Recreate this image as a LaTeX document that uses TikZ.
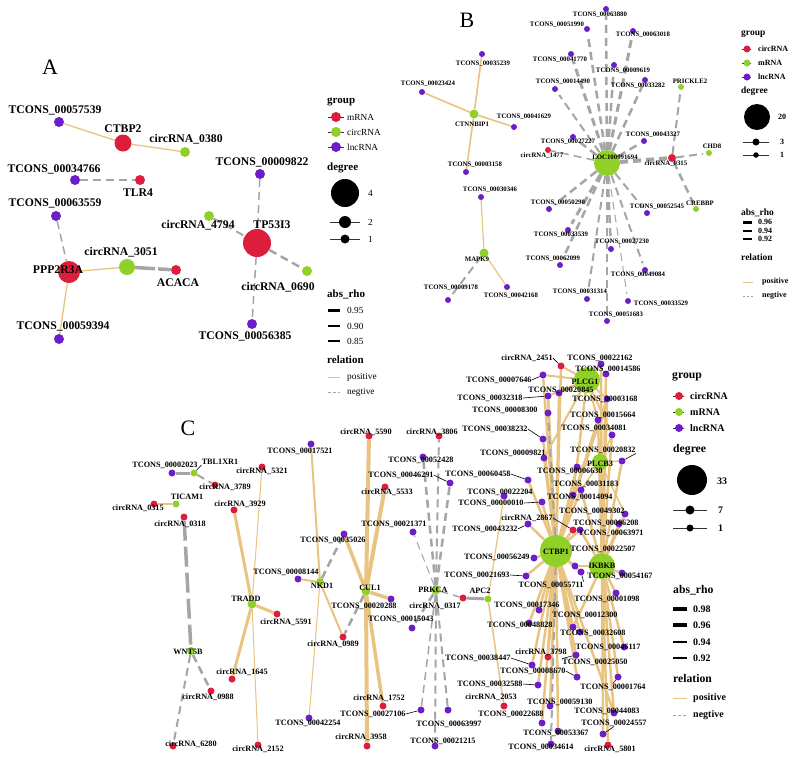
\documentclass[tikz,border=0pt]{standalone}
\usepackage{fontspec}
\setmainfont{Liberation Serif}
\pgfdeclarelayer{bgw}
\pgfdeclarelayer{edges}
\pgfsetlayers{bgw,edges,main}
\definecolor{cred}{RGB}{220,30,60}
\definecolor{cgrn}{RGB}{145,208,40}
\definecolor{cpur}{RGB}{110,30,200}
\definecolor{ctan}{RGB}{232,196,128}
\definecolor{cgry}{RGB}{165,165,165}
\tikzset{
 cR/.style={circle,fill=cred,draw=none,inner sep=0pt,minimum size=#1},
 cG/.style={circle,fill=cgrn,draw=none,inner sep=0pt,minimum size=#1},
 cP/.style={circle,fill=cpur,draw=none,inner sep=0pt,minimum size=#1},
 cK/.style={circle,fill=black,draw=none,inner sep=0pt,minimum size=#1},
 ePos/.style={draw=ctan,line width=#1},
 eNeg/.style={draw=cgry,line width=#1,dash pattern=on 8pt off 5pt},
 lA/.style={font=\fontsize{11.7}{12}\selectfont\bfseries,inner sep=0pt},
 lB/.style={font=\fontsize{6.8}{7}\selectfont\bfseries,inner sep=0pt},
 lC/.style={font=\fontsize{8.2}{9}\selectfont\bfseries,inner sep=0pt},
 panel/.style={font=\fontsize{22}{24}\selectfont,inner sep=0pt},
 lead/.style={draw=black,line width=0.6pt},
 tA/.style={font=\fontsize{11}{12}\selectfont\bfseries,anchor=west,inner sep=0pt},
 iA/.style={font=\fontsize{9.3}{10}\selectfont,anchor=west,inner sep=0pt},
 tB/.style={font=\fontsize{9.5}{10}\selectfont\bfseries,anchor=west,inner sep=0pt},
 iB/.style={font=\fontsize{8}{9}\selectfont\bfseries,anchor=west,inner sep=0pt},
 tC/.style={font=\fontsize{11.7}{12}\selectfont\bfseries,anchor=west,inner sep=0pt},
 iC/.style={font=\fontsize{10}{11}\selectfont\bfseries,anchor=west,inner sep=0pt},
 keyln/.style={draw=black!80,line width=0.8pt},
}
\begin{document}
\begin{tikzpicture}[x=1pt,y=-1pt]
\useasboundingbox (0,0) rectangle (798,761);
\begin{pgfonlayer}{bgw}
\fill[white] (0,0) rectangle (798,761);
\end{pgfonlayer}
% ================= PANEL A =================
\node[panel] (PA) at (50,67) {A};
\node[cP=10pt] (A1) at (59,122) {};
\node[lA] (A1l) at (55,110) {TCONS\_00057539};
\node[cR=17pt] (A2) at (123,143) {};
\node[lA] (A2l) at (123,129) {CTBP2};
\node[cG=10pt] (A3) at (185,152) {};
\node[lA] (A3l) at (186,139) {circRNA\_0380};
\node[cP=10pt] (A4) at (75,180) {};
\node[lA] (A4l) at (54,169) {TCONS\_00034766};
\node[cR=10pt] (A5) at (140,180) {};
\node[lA] (A5l) at (138,193) {TLR4};
\node[cP=10pt] (A6) at (56,216) {};
\node[lA] (A6l) at (55,203) {TCONS\_00063559};
\node[cR=22pt] (A7) at (69,272) {};
\node[lA] (A7l) at (58,270) {PPP2R3A};
\node[cG=16pt] (A8) at (127,267) {};
\node[lA] (A8l) at (121,252) {circRNA\_3051};
\node[cR=10pt] (A9) at (176,270) {};
\node[lA] (A9l) at (178,283) {ACACA};
\node[cP=10pt] (A10) at (59,339) {};
\node[lA] (A10l) at (63,326) {TCONS\_00059394};
\node[cP=10pt] (A11) at (260,174) {};
\node[lA] (A11l) at (262,162) {TCONS\_00009822};
\node[cG=10pt] (A12) at (209,216) {};
\node[lA] (A12l) at (198,225) {circRNA\_4794};
\node[cR=28pt] (A13) at (257,243) {};
\node[lA] (A13l) at (272,225) {TP53I3};
\node[cG=10pt] (A14) at (307,271) {};
\node[lA] (A14l) at (278,287) {circRNA\_0690};
\node[cP=10pt] (A15) at (252,324) {};
\node[lA] (A15l) at (245,336) {TCONS\_00056385};
\begin{pgfonlayer}{edges}
\draw[ePos=1.3] (A1) -- (A2);
\draw[ePos=1.3] (A2) -- (A3);
\draw[eNeg=1.3] (A4) -- (A5);
\draw[eNeg=1.5] (A6) -- (A7);
\draw[ePos=1.3] (A7) -- (A8);
\draw[ePos=1.3] (A7) -- (A10);
\draw[eNeg=3.5,dash pattern=on 20pt off 3pt] (A8) -- (A9);
\draw[eNeg=1.5] (A11) -- (A13);
\draw[eNeg=2] (A12) -- (A13);
\draw[eNeg=2.5] (A13) -- (A14);
\draw[eNeg=1.5] (A13) -- (A15);
\end{pgfonlayer}
% legend A
\node[tA] (LAg) at (327,102) {group};
\draw[keyln] (328,117) -- (344,117);
\draw[keyln] (328,132) -- (344,132);
\draw[keyln] (328,147) -- (344,147);
\node[cR=10pt] (LAk1) at (336,117) {};
\node[cG=10pt] (LAk2) at (336,132) {};
\node[cP=10pt] (LAk3) at (336,147) {};
\node[iA] (LAt1) at (347,117) {mRNA};
\node[iA] (LAt2) at (347,132) {circRNA};
\node[iA] (LAt3) at (347,147) {lncRNA};
\node[tA] (LAd) at (327,168) {degree};
\draw[keyln] (330,222) -- (360,222);
\draw[keyln] (330,239) -- (360,239);
\node[cK=28pt] (LAd1) at (345,193) {};
\node[cK=12pt] (LAd2) at (345,222) {};
\node[cK=9pt] (LAd3) at (345,239) {};
\node[iA] (LAd1t) at (368,193) {4};
\node[iA] (LAd2t) at (368,222) {2};
\node[iA] (LAd3t) at (368,239) {1};
\node[tA] (LAr) at (327,294) {abs\_rho};
\draw[black,line width=3pt] (328,310) -- (340,310);
\draw[black,line width=2.5pt] (328,326) -- (340,326);
\draw[black,line width=2pt] (328,341) -- (340,341);
\node[iA] (LAr1) at (347,310) {0.95};
\node[iA] (LAr2) at (347,326) {0.90};
\node[iA] (LAr3) at (347,341) {0.85};
\node[tA] (LArel) at (327,360) {relation};
\draw[ctan,line width=1pt] (328,377) -- (340,377);
\draw[cgry,line width=1pt,dash pattern=on 3pt off 2pt] (328,392) -- (340,392);
\node[iA] (LAp) at (347,377) {positive};
\node[iA] (LAn) at (347,392) {negtive};
% ================= PANEL B =================
\node[panel] (PB) at (467,20) {B};
\node[cP=6pt] (b35239) at (482,54) {};
\node[lB] (b35239l) at (483,64) {TCONS\_00035239};
\node[cP=6pt] (b23424) at (422,92) {};
\node[lB] (b23424l) at (428,84) {TCONS\_00023424};
\node[cG=9pt] (CTNN) at (474,114) {};
\node[lB] (CTNNl) at (472,124) {CTNNBIP1};
\node[cP=6pt] (b41629) at (514,127) {};
\node[lB] (b41629l) at (524,117) {TCONS\_00041629};
\node[cP=6pt] (b3158) at (466,172) {};
\node[lB] (b3158l) at (475,165) {TCONS\_00003158};
\node[cP=6pt] (b30346) at (481,197) {};
\node[lB] (b30346l) at (490,190) {TCONS\_00030346};
\node[cG=9pt] (MAPK) at (484,253) {};
\node[lB] (MAPKl) at (477,259) {MAPK9};
\node[cP=6pt] (b9178) at (448,300) {};
\node[lB] (b9178l) at (451,288) {TCONS\_00009178};
\node[cP=6pt] (b42168) at (507,287) {};
\node[lB] (b42168l) at (511,296) {TCONS\_00042168};
\node[cP=6pt] (b51990) at (587,29) {};
\node[lB] (b51990l) at (557,25) {TCONS\_00051990};
\node[cP=6pt] (b41770) at (571,54) {};
\node[lB] (b41770l) at (560,60) {TCONS\_00041770};
\node[cP=6pt] (b14490) at (555,89) {};
\node[lB] (b14490l) at (563,82) {TCONS\_00014490};
\node[cP=6pt] (b27227) at (573,137) {};
\node[lB] (b27227l) at (568,142) {TCONS\_00027227};
\node[cR=6pt] (c1477) at (548,150) {};
\node[lB] (c1477l) at (542,156) {circRNA\_1477};
\node[cP=6pt] (b63880) at (606,9) {};
\node[lB] (b63880l) at (600,15) {TCONS\_00063880};
\node[cP=6pt] (b63018) at (633,31) {};
\node[lB] (b63018l) at (643,35) {TCONS\_00063018};
\node[cP=6pt] (b9619) at (614,65) {};
\node[lB] (b9619l) at (623,71) {TCONS\_00009619};
\node[cP=6pt] (b33282) at (645,80) {};
\node[lB] (b33282l) at (638,86) {TCONS\_00033282};
\node[cG=6pt] (PRIC) at (681,87) {};
\node[lB] (PRICl) at (690,81) {PRICKLE2};
\node[cP=6pt] (b43327) at (644,141) {};
\node[lB] (b43327l) at (653,135) {TCONS\_00043327};
\node[cG=26pt] (LOC) at (607,163) {};
\node[lB] (LOCl) at (615,157) {LOC100991694};
\node[cR=8pt] (c0315b) at (672,158) {};
\node[lB] (c0315bl) at (666,164) {circRNA\_0315};
\node[cG=6pt] (CHD) at (709,153) {};
\node[lB] (CHDl) at (712,146) {CHD8};
\node[cG=6pt] (CREB) at (696,209) {};
\node[lB] (CREBl) at (700,203) {CREBBP};
\node[cP=6pt] (b52545) at (647,213) {};
\node[lB] (b52545l) at (657,207) {TCONS\_00052545};
\node[cP=6pt] (b50290) at (549,209) {};
\node[lB] (b50290l) at (558,203) {TCONS\_00050290};
\node[cP=6pt] (b33539) at (568,230) {};
\node[lB] (b33539l) at (561,235) {TCONS\_00033539};
\node[cP=6pt] (b27230) at (611,249) {};
\node[lB] (b27230l) at (622,242) {TCONS\_00027230};
\node[cP=6pt] (b62099) at (560,265) {};
\node[lB] (b62099l) at (553,259) {TCONS\_00062099};
\node[cP=6pt] (b49084) at (645,270) {};
\node[lB] (b49084l) at (638,275) {TCONS\_00049084};
\node[cP=6pt] (b31314) at (587,299) {};
\node[lB] (b31314l) at (580,292) {TCONS\_00031314};
\node[cP=6pt] (b33529) at (628,301) {};
\node[lB] (b33529l) at (661,304) {TCONS\_00033529};
\node[cP=6pt] (b51683) at (607,321) {};
\node[lB] (b51683l) at (616,315) {TCONS\_00051683};
\begin{pgfonlayer}{edges}
\draw[ePos=1.6] (CTNN) -- (b35239);
\draw[ePos=1.6] (CTNN) -- (b23424);
\draw[ePos=1.6] (CTNN) -- (b41629);
\draw[ePos=1.6] (CTNN) -- (b3158);
\draw[ePos=1.2] (MAPK) -- (b30346);
\draw[ePos=1.2] (MAPK) -- (b42168);
\begin{scope}[dash pattern=on 9pt off 5pt]
\draw[eNeg=2,shorten >=4pt] (MAPK) -- (b9178);
\draw[eNeg=2.5,shorten >=4pt] (LOC) -- (b51990);
\draw[eNeg=3,shorten >=4pt] (LOC) -- (b41770);
\draw[eNeg=2,shorten >=4pt] (LOC) -- (b14490);
\draw[eNeg=2.5,shorten >=3pt] (LOC) -- (b27227);
\draw[eNeg=1.5] (LOC) -- (c1477);
\draw[eNeg=2.5,shorten >=4pt] (LOC) -- (b63880);
\draw[eNeg=3,shorten >=4pt] (LOC) -- (b63018);
\draw[eNeg=2.5,shorten >=4pt] (LOC) -- (b9619);
\draw[eNeg=2.5,shorten >=4pt] (LOC) -- (b33282);
\draw[eNeg=2.5,shorten >=3pt] (LOC) -- (b43327);
\draw[eNeg=4] (LOC) -- (c0315b);
\draw[eNeg=2.5,shorten >=4pt] (LOC) -- (b50290);
\draw[eNeg=3,shorten >=4pt] (LOC) -- (b33539);
\draw[eNeg=2.5,shorten >=4pt] (LOC) -- (b62099);
\draw[eNeg=2.5,shorten >=4pt] (LOC) -- (b27230);
\draw[eNeg=2,shorten >=4pt] (LOC) -- (b31314);
\draw[eNeg=2.5,shorten >=4pt] (LOC) -- (b51683);
\draw[eNeg=1,shorten >=4pt] (LOC) -- (b33529);
\draw[eNeg=2,shorten >=4pt] (LOC) -- (b49084);
\draw[eNeg=2,shorten >=4pt] (LOC) -- (b52545);
\draw[eNeg=2,shorten >=4pt] (c0315b) -- (PRIC);
\draw[eNeg=2,shorten >=3pt] (c0315b) -- (CHD);
\draw[eNeg=2.5,shorten >=4pt] (c0315b) -- (CREB);
\end{scope}
\end{pgfonlayer}
% legend B
\node[tB] (LBg) at (741,34) {group};
\draw[keyln] (742,49) -- (751,49);
\draw[keyln] (742,63) -- (751,63);
\draw[keyln] (742,77) -- (751,77);
\node[cR=7pt] (LBk1) at (747,49) {};
\node[cG=7pt] (LBk2) at (747,63) {};
\node[cP=7pt] (LBk3) at (747,77) {};
\node[iB] (LBt1) at (758,49) {circRNA};
\node[iB] (LBt2) at (758,63) {mRNA};
\node[iB] (LBt3) at (758,77) {lncRNA};
\node[tB] (LBd) at (741,91) {degree};
\draw[keyln] (743,142) -- (769,142);
\draw[keyln] (743,155) -- (769,155);
\node[cK=26pt] (LBd1) at (757,117) {};
\node[cK=7pt] (LBd2) at (756,142) {};
\node[cK=5.5pt] (LBd3) at (756,155) {};
\node[iB] (LBd1t) at (778,117) {20};
\node[iB] (LBd2t) at (780,142) {3};
\node[iB] (LBd3t) at (780,155) {1};
\node[tB] (LBr) at (741,213) {abs\_rho};
\draw[black,line width=3pt] (743,222) -- (752,222);
\draw[black,line width=2.3pt] (743,231) -- (752,231);
\draw[black,line width=1.7pt] (743,239) -- (752,239);
\node[iB] (LBr1) at (758,222) {0.96};
\node[iB] (LBr2) at (758,231) {0.94};
\node[iB] (LBr3) at (758,239) {0.92};
\node[tB] (LBrel) at (741,257) {relation};
\draw[ctan,line width=0.8pt] (743,282) -- (753,282);
\draw[cgry,line width=0.8pt,dash pattern=on 2pt off 2pt] (743,296) -- (753,296);
\node[iB] (LBp) at (762,282) {positive};
\node[iB] (LBn) at (762,296) {negtive};
% ================= PANEL C =================
\node[panel] (PC) at (188,428) {C};
\node[cP=7pt] (k2023) at (172,473) {};
\node[lC] (k2023l) at (165,465) {TCONS\_00002023};
\node[cG=7pt] (TBL) at (194,473) {};
\node[lC] (TBLl) at (220,462) {TBL1XR1};
\node[cR=7pt] (k3789) at (215,485) {};
\node[lC] (k3789l) at (225,487) {circRNA\_3789};
\node[cG=7pt] (TIC) at (176,504) {};
\node[lC] (TICl) at (187,497) {TICAM1};
\node[cR=7pt] (k0315) at (154,504) {};
\node[lC] (k0315l) at (138,508) {circRNA\_0315};
\node[cR=7pt] (k0318) at (184,517) {};
\node[lC] (k0318l) at (180,524) {circRNA\_0318};
\node[cG=8pt] (WNT) at (191,651) {};
\node[lC] (WNTl) at (188,652) {WNT5B};
\node[cR=7pt] (k0988) at (211,691) {};
\node[lC] (k0988l) at (208,697) {circRNA\_0988};
\node[cR=7pt] (k6280) at (173,746) {};
\node[lC] (k6280l) at (191,744) {circRNA\_6280};
\node[cR=7pt] (k5321) at (262,467) {};
\node[lC] (k5321l) at (262,471) {circRNA\_5321};
\node[cR=7pt] (k3929) at (234,510) {};
\node[lC] (k3929l) at (240,504) {circRNA\_3929};
\node[cG=9pt] (TRA) at (252,604) {};
\node[lC] (TRAl) at (246,599) {TRADD};
\node[cR=7pt] (k5591) at (277,614) {};
\node[lC] (k5591l) at (286,622) {circRNA\_5591};
\node[cR=7pt] (k1645) at (232,679) {};
\node[lC] (k1645l) at (242,672) {circRNA\_1645};
\node[cR=7pt] (k2152) at (258,745) {};
\node[lC] (k2152l) at (258,749) {circRNA\_2152};
\node[cP=7pt] (k17521) at (311,444) {};
\node[lC] (k17521l) at (300,451) {TCONS\_00017521};
\node[cP=7pt] (k35026) at (344,534) {};
\node[lC] (k35026l) at (333,540) {TCONS\_00035026};
\node[cP=7pt] (k8144) at (298,579) {};
\node[lC] (k8144l) at (286,572) {TCONS\_00008144};
\node[cG=8pt] (NKD) at (320,582) {};
\node[lC] (NKDl) at (322,586) {NKD1};
\node[cR=7pt] (k0989) at (343,637) {};
\node[lC] (k0989l) at (333,644) {circRNA\_0989};
\node[cP=7pt] (k42254) at (309,718) {};
\node[lC] (k42254l) at (308,723) {TCONS\_00042254};
\node[cR=7pt] (k5590) at (369,436) {};
\node[lC] (k5590l) at (366,432) {circRNA\_5590};
\node[cR=7pt] (k5533) at (385,487) {};
\node[lC] (k5533l) at (387,492) {circRNA\_5533};
\node[cG=9pt] (CUL) at (366,591) {};
\node[lC] (CULl) at (370,588) {CUL1};
\node[cP=7pt] (k20288) at (391,599) {};
\node[lC] (k20288l) at (364,606) {TCONS\_00020288};
\node[cR=7pt] (k1752) at (383,706) {};
\node[lC] (k1752l) at (379,698) {circRNA\_1752};
\node[cR=7pt] (k3958) at (367,746) {};
\node[lC] (k3958l) at (361,737) {circRNA\_3958};
\node[cR=7pt] (k3806) at (439,436) {};
\node[lC] (k3806l) at (432,432) {circRNA\_3806};
\node[cP=7pt] (k52428) at (423,457) {};
\node[lC] (k52428l) at (421,460) {TCONS\_00052428};
\node[cP=7pt] (k46291) at (450,483) {};
\node[lC] (k46291l) at (401,475) {TCONS\_00046291};
\node[cP=7pt] (k21371) at (413,532) {};
\node[lC] (k21371l) at (394,524) {TCONS\_00021371};
\node[cG=9pt] (PRK) at (436,590) {};
\node[lC] (PRKl) at (433,590) {PRKCA};
\node[cR=7pt] (k0317) at (463,598) {};
\node[lC] (k0317l) at (435,606) {circRNA\_0317};
\node[cP=7pt] (k15043) at (412,628) {};
\node[lC] (k15043l) at (401,619) {TCONS\_00015043};
\node[cP=7pt] (k27106) at (421,710) {};
\node[lC] (k27106l) at (373,714) {TCONS\_00027106};
\node[cP=7pt] (k63997) at (448,710) {};
\node[lC] (k63997l) at (449,724) {TCONS\_00063997};
\node[cP=7pt] (k21215) at (435,746) {};
\node[lC] (k21215l) at (443,741) {TCONS\_00021215};
\node[cG=7pt] (APC) at (488,599) {};
\node[lC] (APCl) at (480,591) {APC2};
% central cluster
\node[cG=26pt] (PLCG) at (587,380) {};
\node[cG=16pt] (PLCB) at (600,462) {};
\node[cG=32pt] (CTBP) at (556,551) {};
\node[cG=26pt] (IKBK) at (602,566) {};
\node[cR=7pt] (c2451) at (561,366) {};
\node[lC] (c2451l) at (527,358) {circRNA\_2451};
\node[cP=7pt] (n22162) at (601,364) {};
\node[lC] (n22162l) at (600,358) {TCONS\_00022162};
\node[cP=7pt] (n14586) at (606,374) {};
\node[lC] (n14586l) at (608,369) {TCONS\_00014586};
\node[cP=7pt] (n7646) at (543,375) {};
\node[lC] (n7646l) at (499,380) {TCONS\_00007646};
\node[cP=7pt] (n20845) at (559,393) {};
\node[lC] (n20845l) at (561,390) {TCONS\_00020845};
\node[cP=7pt] (n32318) at (548,396) {};
\node[lC] (n32318l) at (490,398) {TCONS\_00032318};
\node[cP=7pt] (n3168) at (607,399) {};
\node[lC] (n3168l) at (605,399) {TCONS\_00003168};
\node[cP=7pt] (n8300) at (548,413) {};
\node[lC] (n8300l) at (505,410) {TCONS\_00008300};
\node[cP=7pt] (n15664) at (598,420) {};
\node[lC] (n15664l) at (603,415) {TCONS\_00015664};
\node[cP=7pt] (n38232) at (543,439) {};
\node[lC] (n38232l) at (495,429) {TCONS\_00038232};
\node[cP=7pt] (n34081) at (612,435) {};
\node[lC] (n34081l) at (594,428) {TCONS\_00034081};
\node[cP=7pt] (n9821) at (544,458) {};
\node[lC] (n9821l) at (513,453) {TCONS\_00009821};
\node[cP=7pt] (n20832) at (622,461) {};
\node[lC] (n20832l) at (603,450) {TCONS\_00020832};
\node[cP=7pt] (n6630) at (577,467) {};
\node[lC] (n6630l) at (570,471) {TCONS\_00006630};
\node[cP=7pt] (n60458) at (528,480) {};
\node[lC] (n60458l) at (478,474) {TCONS\_00060458};
\node[cP=7pt] (n31183) at (581,490) {};
\node[lC] (n31183l) at (586,484) {TCONS\_00031183};
\node[cP=7pt] (n22204) at (504,496) {};
\node[lC] (n22204l) at (500,492) {TCONS\_00022204};
\node[cP=7pt] (n14094) at (573,495) {};
\node[lC] (n14094l) at (580,497) {TCONS\_00014094};
\node[cP=7pt] (n10) at (542,502) {};
\node[lC] (n10l) at (491,503) {TCONS\_00000010};
\node[cP=7pt] (n49302) at (625,514) {};
\node[lC] (n49302l) at (592,511) {TCONS\_00049302};
\node[cP=7pt] (n43232) at (528,524) {};
\node[lC] (n43232l) at (485,529) {TCONS\_00043232};
\node[cR=7pt] (c2867) at (573,530) {};
\node[lC] (c2867l) at (527,518) {circRNA\_2867};
\node[cP=7pt] (n6208) at (619,524) {};
\node[lC] (n6208l) at (606,523) {TCONS\_00006208};
\node[cP=7pt] (n63971) at (580,530) {};
\node[lC] (n63971l) at (611,533) {TCONS\_00063971};
\node[cP=7pt] (n22507) at (575,566) {};
\node[lC] (n22507l) at (603,549) {TCONS\_00022507};
\node[cP=7pt] (n56249) at (534,558) {};
\node[lC] (n56249l) at (497,557) {TCONS\_00056249};
\node[cP=7pt] (n54167) at (622,573) {};
\node[lC] (n54167l) at (620,576) {TCONS\_00054167};
\node[cP=7pt] (n55711) at (581,572) {};
\node[lC] (n55711l) at (551,585) {TCONS\_00055711};
\node[cP=7pt] (n21693) at (526,576) {};
\node[lC] (n21693l) at (477,575) {TCONS\_00021693};
\node[cP=7pt] (n1098) at (616,593) {};
\node[lC] (n1098l) at (607,599) {TCONS\_00001098};
\node[cP=7pt] (n17346) at (539,610) {};
\node[lC] (n17346l) at (527,605) {TCONS\_00017346};
\node[cP=7pt] (n12300) at (573,627) {};
\node[lC] (n12300l) at (585,615) {TCONS\_00012300};
\node[cP=7pt] (n48828) at (529,623) {};
\node[lC] (n48828l) at (520,625) {TCONS\_00048828};
\node[cP=7pt] (n32608) at (580,632) {};
\node[lC] (n32608l) at (593,633) {TCONS\_00032608};
\node[cP=7pt] (n46117) at (624,647) {};
\node[lC] (n46117l) at (608,647) {TCONS\_00046117};
\node[cR=7pt] (c3798) at (548,657) {};
\node[lC] (c3798l) at (541,652) {circRNA\_3798};
\node[cP=7pt] (n38447) at (532,665) {};
\node[lC] (n38447l) at (478,658) {TCONS\_00038447};
\node[cP=7pt] (n25050) at (576,655) {};
\node[lC] (n25050l) at (595,662) {TCONS\_00025050};
\node[cP=7pt] (n8670) at (577,677) {};
\node[lC] (n8670l) at (533,671) {TCONS\_00008670};
\node[cP=7pt] (n1764) at (618,677) {};
\node[lC] (n1764l) at (613,687) {TCONS\_00001764};
\node[cP=7pt] (n32588) at (538,685) {};
\node[lC] (n32588l) at (490,684) {TCONS\_00032588};
\node[cR=7pt] (c2053) at (504,706) {};
\node[lC] (c2053l) at (491,697) {circRNA\_2053};
\node[cP=7pt] (n59130) at (550,706) {};
\node[lC] (n59130l) at (560,702) {TCONS\_00059130};
\node[cP=7pt] (n44083) at (614,713) {};
\node[lC] (n44083l) at (607,711) {TCONS\_00044083};
\node[cP=7pt] (n22688) at (542,723) {};
\node[lC] (n22688l) at (511,714) {TCONS\_00022688};
\node[cP=7pt] (n24557) at (603,734) {};
\node[lC] (n24557l) at (614,723) {TCONS\_00024557};
\node[cP=7pt] (n53367) at (558,731) {};
\node[lC] (n53367l) at (556,733) {TCONS\_00053367};
\node[cP=7pt] (n34614) at (551,744) {};
\node[lC] (n34614l) at (541,747) {TCONS\_00034614};
\node[cR=7pt] (c5801) at (608,745) {};
\node[lC] (c5801l) at (610,749) {circRNA\_5801};
\node[lC] (PLCGl) at (585,382) {PLCG1};
\node[lC] (PLCBl) at (600,464) {PLCB3};
\node[lC] (CTBPl) at (556,552) {CTBP1};
\node[lC] (IKBKl) at (602,566) {IKBKB};
\begin{pgfonlayer}{edges}
\draw[eNeg=3,dash pattern=on 20pt off 2pt] (k2023) -- (TBL);
\draw[eNeg=2] (TBL) -- (k3789);
\draw[ePos=2] (TIC) -- (k0315);
\draw[eNeg=3.5,dash pattern=on 20pt off 6pt] (k0318) -- (WNT);
\draw[eNeg=2.5] (WNT) -- (k0988);
\draw[eNeg=2] (WNT) -- (k6280);
\draw[ePos=1] (TRA) -- (k5321);
\draw[ePos=3] (TRA) -- (k3929);
\draw[ePos=3] (TRA) -- (k5591);
\draw[ePos=3] (TRA) -- (k1645);
\draw[ePos=1] (TRA) -- (k2152);
\draw[ePos=2] (NKD) -- (k17521);
\draw[eNeg=2.5] (NKD) -- (k35026);
\draw[ePos=2] (NKD) -- (k8144);
\draw[ePos=2] (NKD) -- (k0989);
\draw[ePos=1] (NKD) -- (k42254);
\draw[ePos=4] (CUL) -- (k5590);
\draw[ePos=4] (CUL) -- (k5533);
\draw[ePos=3.5] (CUL) -- (k35026);
\draw[ePos=3.5] (CUL) -- (k20288);
\draw[eNeg=2.5] (CUL) -- (k0989);
\draw[ePos=3.5] (CUL) -- (k1752);
\draw[ePos=4] (CUL) -- (k3958);
\draw[eNeg=2] (PRK) -- (k3806);
\draw[eNeg=2.5] (PRK) -- (k52428);
\draw[eNeg=2.5] (PRK) -- (k46291);
\draw[eNeg=1] (PRK) -- (k21371);
\draw[eNeg=2.5] (PRK) -- (k15043);
\draw[eNeg=1.5] (PRK) -- (k27106);
\draw[eNeg=2] (PRK) -- (k63997);
\draw[eNeg=2] (PRK) -- (k21215);
\draw[eNeg=1.5] (PRK) -- (k0317);
\draw[eNeg=3,dash pattern=on 20pt off 2pt] (APC) -- (k0317);
\draw[ePos=1.2] (APC) -- (n22204);
\draw[ePos=1.5] (APC) -- (c2053);
\foreach \t in {n7646,n20845,n32318,n38232,n9821,n6630,n60458,n31183,n10,n14094,n43232,c2867,n63971,n56249,n22507,n55711,n21693,n17346,n48828,n12300,n32608,c3798,n38447,n25050,n8670,n32588,n59130,n22688,n53367,c2451,n15664,n3168,n44083}
  {\draw[ePos=2.5] (CTBP) -- (\t);}
\draw[eNeg=2] (CTBP) -- (n8300);
\draw[eNeg=2] (CTBP) -- (n34614);
\foreach \t in {n14586,n3168,n34081,n20832,n49302,n6208,n54167,n1098,n46117,n1764,n44083,n24557,c5801,n12300,n22507,n63971,n22162,n15664,n31183}
  {\draw[ePos=2.5] (IKBK) -- (\t);}
\foreach \t in {n22162,n14586,c2451,n7646,n20845,n3168,n15664,n34081,n6630,n14094,n9821,n32318}
  {\draw[ePos=2] (PLCG) -- (\t);}
\foreach \t in {n20832,n31183,n6630,n34081,n49302}
  {\draw[ePos=1.5] (PLCB) -- (\t);}
\end{pgfonlayer}
\draw[lead] (TBLl.south west) -- (TBL);
\draw[lead] (k46291l.east) -- (k46291);
\draw[lead] (k27106l.east) -- (k27106);
\draw[lead] (n7646l.east) -- (n7646);
\draw[lead] (n32318l.east) -- (n32318);
\draw[lead] (c2451l.east) -- (c2451);
\draw[lead] (n38232l.east) -- (n38232);
\draw[lead] (n60458l.east) -- (n60458);
\draw[lead] (n10l.east) -- (n10);
\draw[lead] (n43232l.east) -- (n43232);
\draw[lead] (c2867l.east) -- (c2867);
\draw[lead] (n21693l.east) -- (n21693);
\draw[lead] (n55711l.north east) -- (n55711);
\draw[lead] (n38447l.east) -- (n38447);
\draw[lead] (n8670l.east) -- (n8670);
\draw[lead] (n32588l.east) -- (n32588);
\draw[lead] (n1764l.north) -- (n1764);
\draw[lead] (n24557l.south) -- (n24557);
\draw[lead] (n20832l.south east) -- (n20832);
\draw[lead] (n25050l.north west) -- (n25050);
% legend C
\node[tC] (LCg) at (672,377) {group};
\draw[keyln] (673,396) -- (684,396);
\draw[keyln] (673,412) -- (684,412);
\draw[keyln] (673,428) -- (684,428);
\node[cR=8pt] (LCk1) at (679,396) {};
\node[cG=8pt] (LCk2) at (679,412) {};
\node[cP=8pt] (LCk3) at (679,428) {};
\node[iC] (LCt1) at (690,396) {circRNA};
\node[iC] (LCt2) at (690,412) {mRNA};
\node[iC] (LCt3) at (690,428) {lncRNA};
\node[tC] (LCd) at (673,450) {degree};
\draw[keyln] (673,510) -- (707,510);
\draw[keyln] (673,528) -- (707,528);
\node[cK=30pt] (LCd1) at (692,480) {};
\node[cK=9pt] (LCd2) at (690,510) {};
\node[cK=7pt] (LCd3) at (690,528) {};
\node[iC] (LCd1t) at (717,481) {33};
\node[iC] (LCd2t) at (718,510) {7};
\node[iC] (LCd3t) at (718,528) {1};
\node[tC] (LCr) at (673,590) {abs\_rho};
\draw[black,line width=4pt] (673,609) -- (687,609);
\draw[black,line width=3.3pt] (673,625) -- (687,625);
\draw[black,line width=2.7pt] (673,642) -- (687,642);
\draw[black,line width=2pt] (673,658) -- (687,658);
\node[iC] (LCr1) at (693,609) {0.98};
\node[iC] (LCr2) at (693,625) {0.96};
\node[iC] (LCr3) at (693,642) {0.94};
\node[iC] (LCr4) at (693,658) {0.92};
\node[tC] (LCrel) at (673,678) {relation};
\draw[ctan,line width=1pt] (673,698) -- (687,698);
\draw[cgry,line width=1pt,dash pattern=on 3pt off 2pt] (673,715) -- (687,715);
\node[iC] (LCp) at (693,698) {positive};
\node[iC] (LCn) at (693,715) {negtive};
\end{tikzpicture}
\end{document}
